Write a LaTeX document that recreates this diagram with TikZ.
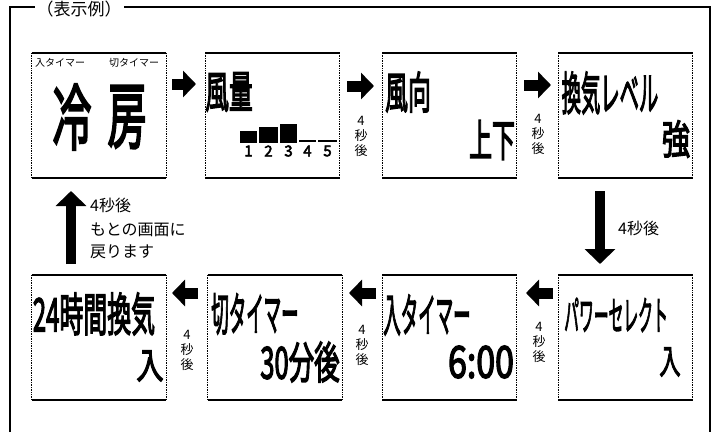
\documentclass[tikz,border=0pt]{standalone}
\usepackage{fontspec}
\usetikzlibrary{arrows.meta}
\newfontfamily\jp{Noto Sans CJK JP}
\newfontfamily\jpb{Noto Sans CJK JP}[FakeBold=3.5]
\newcommand\lbl[3]{\scalebox{#1}[1]{\jpb\fontsize{#2}{#2}\selectfont #3}}
\begin{document}
\begin{tikzpicture}[x=1pt,y=-1pt,
  box/.style={minimum width=134pt,minimum height=125pt,inner sep=0pt,draw=none},
  edge/.style={line width=1.8pt},
  side/.style={line width=0.7pt,densely dotted},
  txt/.style={inner sep=0pt,anchor=center},
  rarrow/.style={line width=11pt,-{Triangle[width=26pt,length=13pt]}},
  varrow/.style={line width=10pt,-{Triangle[width=30pt,length=15pt]}},
  small/.style={inner sep=0pt,font=\jp\fontsize{13}{15}\selectfont,align=center},
  note/.style={inner sep=0pt,anchor=west,font=\jp\fontsize{16}{16}\selectfont},
  bar/.style={fill=black,draw=none},
  frame/.style={line width=1.6pt}
]
\useasboundingbox (0,0) rectangle (715,432);
% outer frame
\draw[frame] (10,432) -- (10,7) -- (710,7) -- (710,432);
\node[fill=white,inner sep=2pt,font=\jp\fontsize{17}{17}\selectfont] (title) at (79,9) {（表示例）};
% boxes
\node[box] (b1) at (99,115.5) {};
\node[box] (b2) at (272.5,115.5) {};
\node[box] (b3) at (449.5,115.5) {};
\node[box] (b4) at (625.5,115.5) {};
\node[box] (c1) at (99,337.5) {};
\node[box] (c2) at (275,337.5) {};
\node[box] (c3) at (449.5,337.5) {};
\node[box] (c4) at (625.5,337.5) {};
\foreach \n in {b1,b2,b3,b4,c1,c2,c3,c4}{
  \draw[edge] (\n.north west) -- (\n.north east);
  \draw[edge] (\n.south west) -- (\n.south east);
  \draw[side] (\n.north west) -- (\n.south west);
  \draw[side] (\n.north east) -- (\n.south east);
}
% box 1
\node[inner sep=0pt,font=\jp\fontsize{10}{10}\selectfont] (t1a) at (60,63) {入タイマー};
\node[inner sep=0pt,font=\jp\fontsize{10}{10}\selectfont] (t1b) at (134,63) {切タイマー};
\node[txt] (t1c) at (72,117) {\lbl{0.54}{72}{冷}};
\node[txt] (t1d) at (127,117) {\lbl{0.54}{72}{房}};
% box 2
\node[txt] (t2a) at (229,92) {\lbl{0.54}{44}{風量}};
\fill[bar] (240,131) rectangle (257,143);
\fill[bar] (259,127) rectangle (278,143);
\fill[bar] (280,124) rectangle (297,143);
\fill[bar] (299,140) rectangle (316,142);
\fill[bar] (318,140) rectangle (337,142);
\foreach \d/\x in {1/248.5,2/268.5,3/288.5,4/307.5,5/327.5}{
  \node[inner sep=0pt,font=\jpb\fontsize{15}{15}\selectfont] (n\d) at (\x,151) {\d};
}
% box 3
\node[txt] (t3a) at (408,92) {\lbl{0.52}{44}{風向}};
\node[txt] (t3b) at (492,140) {\lbl{0.52}{44}{上下}};
% box 4
\node[txt] (t4a) at (610,93) {\lbl{0.42}{46}{換気レベル}};
\node[txt] (t4b) at (676,139) {\lbl{0.7}{40}{強}};
% bottom row
\node[txt] (u1a) at (94,314) {\lbl{0.52}{46}{24時間換気}};
\node[txt] (u1b) at (150,366) {\lbl{0.75}{36}{入}};
\node[txt] (u2a) at (255,314) {\lbl{0.38}{46}{切タイマー}};
\node[txt] (u2b) at (300,362) {\lbl{0.58}{44}{30分後}};
\node[txt] (u3a) at (427,315) {\lbl{0.38}{46}{入タイマー}};
\node[txt] (u3b) at (481,362) {\lbl{0.77}{44}{6:00}};
\node[txt] (u4a) at (616,315) {\lbl{0.37}{40}{パワーセレクト}};
\node[txt] (u4b) at (670,362) {\lbl{0.62}{34}{入}};
% arrows top row
\coordinate (a1s) at (172,84); \coordinate (a1e) at (196,84);
\coordinate (a2s) at (347,86); \coordinate (a2e) at (374,86);
\coordinate (a3s) at (524,85); \coordinate (a3e) at (551,85);
\draw[rarrow] (a1s) -- (a1e);
\draw[rarrow] (a2s) -- (a2e);
\draw[rarrow] (a3s) -- (a3e);
\node[small] (s2) at (361,136) {4\\秒\\後};
\node[small] (s3) at (538,134) {4\\秒\\後};
% down arrow
\coordinate (ds) at (600,191); \coordinate (de) at (600,264);
\draw[varrow] (ds) -- (de);
\node[note] (dl) at (618,228) {4秒後};
% up arrow
\coordinate (us) at (71,264); \coordinate (ue) at (71,191);
\draw[varrow] (us) -- (ue);
\node[note] (ul1) at (90,205) {4秒後};
\node[note] (ul2) at (90,230) {もとの画面に};
\node[note] (ul3) at (90,252) {戻ります};
% arrows bottom row
\coordinate (e1s) at (198,293); \coordinate (e1e) at (172,293);
\coordinate (e2s) at (376,293); \coordinate (e2e) at (349,293);
\coordinate (e3s) at (553,293); \coordinate (e3e) at (526,293);
\draw[rarrow] (e1s) -- (e1e);
\draw[rarrow] (e2s) -- (e2e);
\draw[rarrow] (e3s) -- (e3e);
\node[small] (v1) at (187,350) {4\\秒\\後};
\node[small] (v2) at (362,345) {4\\秒\\後};
\node[small] (v3) at (539,342) {4\\秒\\後};
\end{tikzpicture}
\end{document}
